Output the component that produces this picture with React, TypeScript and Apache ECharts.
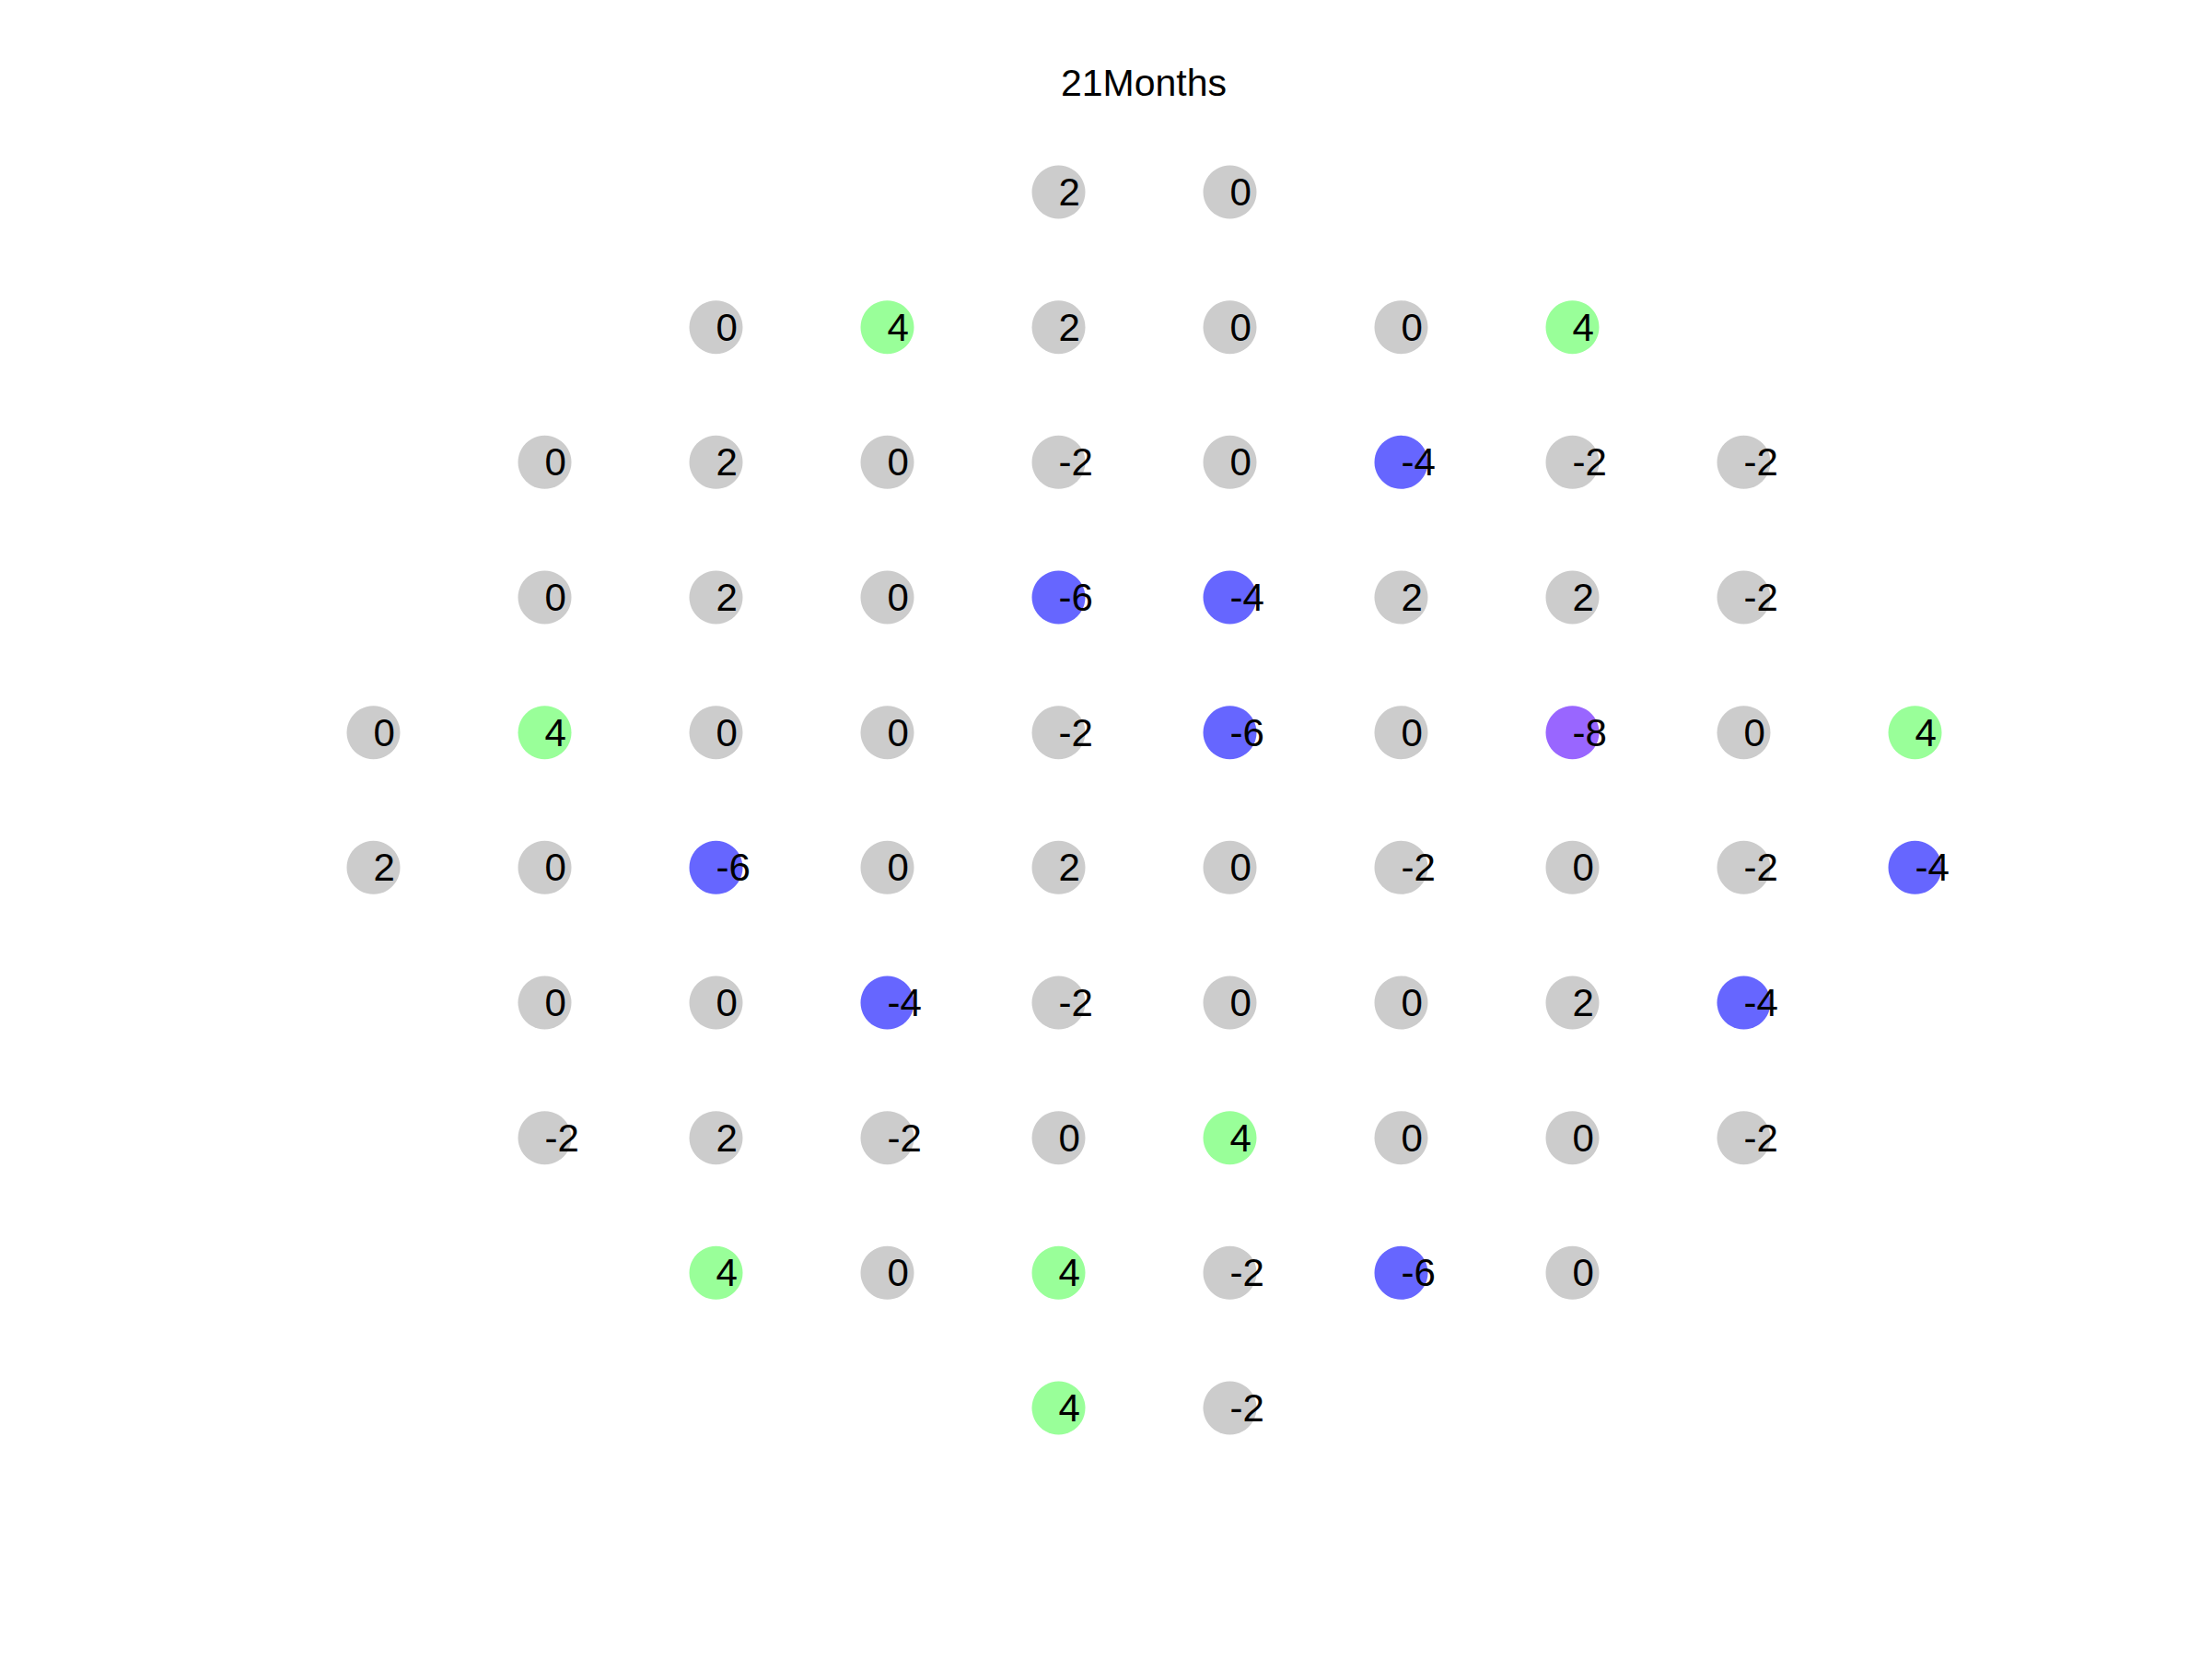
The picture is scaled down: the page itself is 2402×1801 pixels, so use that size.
import React, { useEffect, useRef } from "react";
import * as echarts from "echarts";

const title = "21Months";

// Visual field grid: each row lists values from its first column (0..9), rows from top (0) to bottom (9)
const rowStartCols = [4, 2, 1, 1, 0, 0, 1, 1, 2, 4];
const row0 = [2, 0];
const row1 = [0, 4, 2, 0, 0, 4];
const row2 = [0, 2, 0, -2, 0, -4, -2, -2];
const row3 = [0, 2, 0, -6, -4, 2, 2, -2];
const row4 = [0, 4, 0, 0, -2, -6, 0, -8, 0, 4];
const row5 = [2, 0, -6, 0, 2, 0, -2, 0, -2, -4];
const row6 = [0, 0, -4, -2, 0, 0, 2, -4];
const row7 = [-2, 2, -2, 0, 4, 0, 0, -2];
const row8 = [4, 0, 4, -2, -6, 0];
const row9 = [4, -2];
const rows = [row0, row1, row2, row3, row4, row5, row6, row7, row8, row9];

function colorFor(v: number): string {
  if (v >= 4) return "#99FF99";
  if (v <= -8) return "#9966FF";
  if (v <= -4) return "#6666FF";
  return "#CCCCCC";
}

export default function App() {
  const ref = useRef<HTMLDivElement>(null);
  useEffect(() => {
    if (!ref.current) return;
    const chart = echarts.init(ref.current, null, { renderer: "svg" });
    const data: any[] = [];
    rows.forEach((vals, r) => {
      vals.forEach((v, i) => {
        data.push({
          value: [rowStartCols[r] + i, 9 - r, v],
          itemStyle: { color: colorFor(v), opacity: 1 },
        });
      });
    });
    chart.setOption({
      animation: false,
      backgroundColor: "#ffffff",
      title: {
        text: title,
        left: 1237,
        textAlign: "center",
        top: 64,
        textStyle: {
          fontFamily: "Liberation Sans",
          fontSize: 41,
          fontWeight: "normal",
          color: "#000000",
        },
      },
      grid: { left: 405.5, top: 208.5, width: 1674, height: 1320 },
      xAxis: { type: "value", min: 0, max: 9, show: false },
      yAxis: { type: "value", min: 0, max: 9, show: false },
      series: [
        {
          type: "scatter",
          symbol: "circle",
          symbolSize: 58,
          itemStyle: { opacity: 1 },
          data,
          label: {
            show: true,
            position: ["50%", "50%"],
            align: "left",
            verticalAlign: "middle",
            formatter: (p: any) => String(p.value[2]),
            fontFamily: "Liberation Sans",
            fontSize: 42,
            color: "#000000",
            opacity: 1,
          },
        },
      ],
    });
    return () => chart.dispose();
  }, []);
  return (
    <div
      ref={ref}
      style={{ position: "fixed", left: 0, top: 0, width: 2402, height: 1801 }}
    />
  );
}
